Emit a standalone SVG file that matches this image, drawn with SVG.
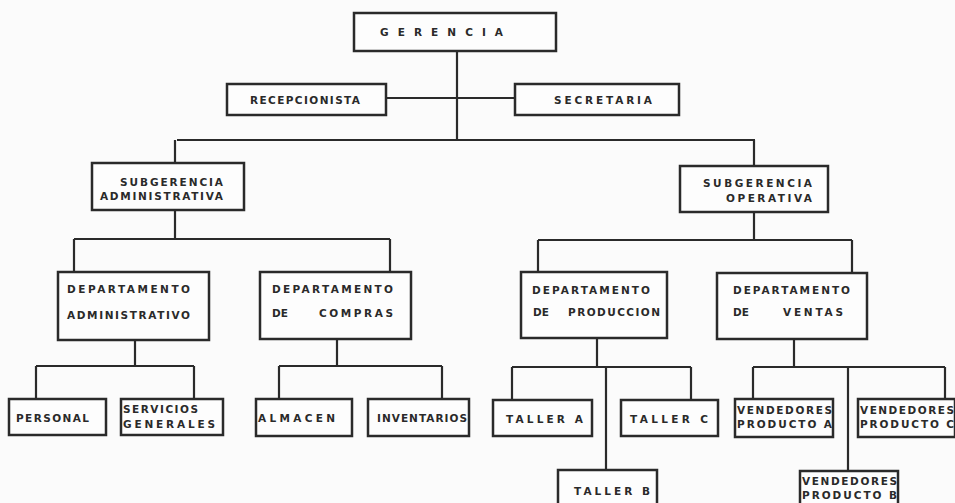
<svg xmlns="http://www.w3.org/2000/svg" width="955" height="503" viewBox="0 0 955 503">
<style>
.b{fill:#fdfdfd;stroke:#2a2a2a;stroke-width:2.5}
.c{fill:none;stroke:#2a2a2a;stroke-width:2.2}
text{font-family:"DejaVu Sans","Liberation Sans",Arial,sans-serif;font-weight:bold;font-size:10.5px;fill:#2a2a2a}
.s{font-size:10.5px}
</style>
<rect width="955" height="503" fill="#fbfbfb"/>
<g id="connectors">
<path class="c" d="M457 51V140M386 98H515M177 140H755M175 140V163M754 140V166"/>
<path class="c" d="M175 210V239M74 239H390M74 239V272M390 239V272"/>
<path class="c" d="M754 212V240M538 240H852M538 240V272M852 240V273"/>
<path class="c" d="M135 340V366M36 366H194M36 366V399M194 366V399"/>
<path class="c" d="M337 339V366M279 366H442M279 366V399M442 366V399"/>
<path class="c" d="M597 338V367M512 367H691M512 367V400M691 367V400M606 367V470"/>
<path class="c" d="M794 339V367M753 367H945M753 367V399M945 367V399M848 367V471"/>
</g>
<g id="gerencia"><rect class="b" x="354" y="13" width="202" height="38"/><text x="380" y="36" textLength="123" lengthAdjust="spacing">GERENCIA</text></g>
<g id="recepcionista"><rect class="b" x="227" y="84" width="159" height="31"/><text x="250" y="104" textLength="110" lengthAdjust="spacing">RECEPCIONISTA</text></g>
<g id="secretaria"><rect class="b" x="515" y="84" width="164" height="31"/><text x="554" y="104" textLength="98" lengthAdjust="spacing">SECRETARIA</text></g>
<g id="sub-adm"><rect class="b" x="92" y="163" width="152" height="47"/><text x="120" y="186" textLength="103" lengthAdjust="spacing">SUBGERENCIA</text><text x="100" y="200" textLength="123" lengthAdjust="spacing">ADMINISTRATIVA</text></g>
<g id="sub-op"><rect class="b" x="680" y="166" width="148" height="46"/><text x="703" y="187" textLength="109" lengthAdjust="spacing">SUBGERENCIA</text><text x="726" y="202" textLength="86" lengthAdjust="spacing">OPERATIVA</text></g>
<g id="dep-adm"><rect class="b" x="58" y="272" width="151" height="68"/><text x="67" y="293" textLength="123" lengthAdjust="spacing">DEPARTAMENTO</text><text x="67" y="319" textLength="123" lengthAdjust="spacing">ADMINISTRATIVO</text></g>
<g id="dep-compras"><rect class="b" x="260" y="272" width="151" height="67"/><text x="272" y="293" textLength="121" lengthAdjust="spacing">DEPARTAMENTO</text><text x="272" y="317">DE</text><text x="319" y="317" textLength="74" lengthAdjust="spacing">COMPRAS</text></g>
<g id="dep-prod"><rect class="b" x="521" y="272" width="146" height="66"/><text x="532" y="294" textLength="118" lengthAdjust="spacing">DEPARTAMENTO</text><text x="533" y="316">DE</text><text x="568" y="316" textLength="92" lengthAdjust="spacing">PRODUCCION</text></g>
<g id="dep-ventas"><rect class="b" x="717" y="273" width="150" height="66"/><text x="733" y="294" textLength="117" lengthAdjust="spacing">DEPARTAMENTO</text><text x="733" y="316">DE</text><text x="783" y="316" textLength="60" lengthAdjust="spacing">VENTAS</text></g>
<g id="personal"><rect class="b" x="9" y="399" width="97" height="36"/><text x="16" y="422" textLength="73" lengthAdjust="spacing">PERSONAL</text></g>
<g id="servicios"><rect class="b" x="121" y="399" width="102" height="36"/><text class="s" x="123" y="413" textLength="75" lengthAdjust="spacing">SERVICIOS</text><text class="s" x="123" y="428" textLength="92" lengthAdjust="spacing">GENERALES</text></g>
<g id="almacen"><rect class="b" x="256" y="399" width="96" height="37"/><text x="258" y="422" textLength="77" lengthAdjust="spacing">ALMACEN</text></g>
<g id="inventarios"><rect class="b" x="368" y="399" width="101" height="37"/><text x="377" y="422" textLength="90" lengthAdjust="spacing">INVENTARIOS</text></g>
<g id="taller-a"><rect class="b" x="493" y="400" width="99" height="36"/><text x="506" y="423" textLength="77" lengthAdjust="spacing">TALLER A</text></g>
<g id="taller-c"><rect class="b" x="621" y="400" width="97" height="36"/><text x="630" y="423" textLength="78" lengthAdjust="spacing">TALLER C</text></g>
<g id="taller-b"><rect class="b" x="558" y="470" width="99" height="36"/><text x="574" y="495" textLength="76" lengthAdjust="spacing">TALLER B</text></g>
<g id="vend-a"><rect class="b" x="735" y="399" width="98" height="38"/><text class="s" x="737" y="414" textLength="95" lengthAdjust="spacing">VENDEDORES</text><text class="s" x="737" y="428" textLength="95" lengthAdjust="spacing">PRODUCTO A</text></g>
<g id="vend-c"><rect class="b" x="858" y="399" width="97" height="38"/><text class="s" x="860" y="414" textLength="94" lengthAdjust="spacing">VENDEDORES</text><text class="s" x="860" y="428" textLength="94" lengthAdjust="spacing">PRODUCTO C</text></g>
<g id="vend-b"><rect class="b" x="800" y="471" width="98" height="36"/><text class="s" x="802" y="485" textLength="95" lengthAdjust="spacing">VENDEDORES</text><text class="s" x="802" y="499" textLength="95" lengthAdjust="spacing">PRODUCTO B</text></g>
</svg>
